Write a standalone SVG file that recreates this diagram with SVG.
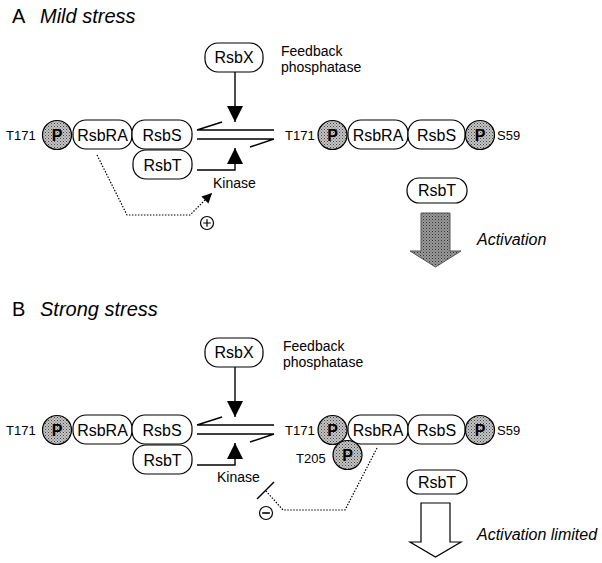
<svg xmlns="http://www.w3.org/2000/svg" width="602" height="563" viewBox="0 0 602 563">
<defs>
  <pattern id="stip" width="3" height="3" patternUnits="userSpaceOnUse">
    <rect width="3" height="3" fill="#c4c4c4"/>
    <rect x="0" y="0" width="1" height="1" fill="#444"/>
    <rect x="1.5" y="1.5" width="1" height="1" fill="#666"/>
  </pattern>
  <pattern id="stipDark" width="3" height="3" patternUnits="userSpaceOnUse">
    <rect width="3" height="3" fill="#999"/>
    <rect x="0" y="0" width="1" height="1" fill="#333"/>
    <rect x="1.5" y="1.5" width="1" height="1" fill="#555"/>
  </pattern>
  <marker id="ah" viewBox="0 0 10 10" refX="10" refY="5" markerWidth="16" markerHeight="16" markerUnits="userSpaceOnUse" orient="auto">
    <path d="M0,0 L10,5 L0,10 Z" fill="#000"/>
  </marker>
  <marker id="ahs" viewBox="0 0 10 10" refX="10" refY="5" markerWidth="10" markerHeight="10" markerUnits="userSpaceOnUse" orient="auto">
    <path d="M0,0 L10,5 L0,10 Z" fill="#000"/>
  </marker>
</defs>
<style>
  text { font-family: "Liberation Sans", Arial, sans-serif; fill: #000; }
  .box { fill: #fff; stroke: #000; stroke-width: 1.2; }
  .p { fill: url(#stip); stroke: #000; stroke-width: 1.2; }
  .pt { font-size: 16px; font-weight: bold; text-anchor: middle; }
  .lbl { font-size: 16px; text-anchor: middle; }
  .site { font-size: 13px; }
  .sm { font-size: 14px; }
  .it { font-style: italic; }
  .ln { stroke: #000; stroke-width: 1.4; fill: none; }
  .dot { stroke: #000; stroke-width: 1.2; fill: none; stroke-dasharray: 1.5 1.5; }
  .sign { fill: #fff; stroke: #000; stroke-width: 1.2; }
</style>

<!-- Panel A -->
<g id="titleA">
  <text x="12" y="23" font-size="20">A</text>
  <text x="40" y="23" font-size="20" class="it">Mild stress</text>
</g>
<g id="A-rsbx">
  <rect class="box" x="205" y="43" width="58" height="29" rx="13"/>
  <text class="lbl" x="234" y="63">RsbX</text>
</g>
<g id="A-feedback">
  <text class="sm" x="281" y="56">Feedback</text>
  <text class="sm" x="281" y="72">phosphatase</text>
</g>
<g id="A-left-complex">
  <text class="site" x="6" y="140">T171</text>
  <circle class="p" cx="57" cy="135" r="14.5"/>
  <text class="pt" x="57" y="141">P</text>
  <rect class="box" x="73" y="120" width="59" height="29" rx="13"/>
  <text class="lbl" x="102.5" y="140.5">RsbRA</text>
  <rect class="box" x="132" y="120" width="60" height="29" rx="13"/>
  <text class="lbl" x="162" y="140.5">RsbS</text>
  <rect class="box" x="133" y="150" width="59" height="29" rx="13"/>
  <text class="lbl" x="162.5" y="170.5">RsbT</text>
</g>
<g id="A-kinase">
  <text class="sm" x="213" y="188">Kinase</text>
</g>
<g id="A-plus">
  <circle class="sign" cx="207" cy="223" r="6.5"/>
  <path d="M203.2,223 H210.8 M207,219.2 V226.8" stroke="#000" stroke-width="1.2"/>
</g>
<g id="A-right-complex">
  <text class="site" x="285" y="140">T171</text>
  <circle class="p" cx="332.5" cy="135" r="14.5"/>
  <text class="pt" x="332.5" y="141">P</text>
  <rect class="box" x="348" y="120" width="60" height="29" rx="13"/>
  <text class="lbl" x="378" y="140.5">RsbRA</text>
  <rect class="box" x="408" y="120" width="57" height="29" rx="13"/>
  <text class="lbl" x="436.5" y="140.5">RsbS</text>
  <circle class="p" cx="480" cy="135" r="14.5"/>
  <text class="pt" x="480" y="141">P</text>
  <text class="site" x="497" y="140">S59</text>
</g>
<g id="A-rsbt-free">
  <rect class="box" x="407" y="178" width="60" height="25" rx="12"/>
  <text class="lbl" x="437" y="196">RsbT</text>
</g>
<g id="A-activation">
  <path d="M421,213 H450 V251 H461 L435.5,267 L410,251 H421 Z" fill="url(#stipDark)" stroke="#555" stroke-width="1"/>
  <text x="477" y="245" font-size="16" class="it">Activation</text>
</g>

<!-- Panel B -->
<g id="titleB">
  <text x="12" y="316" font-size="20">B</text>
  <text x="40" y="316" font-size="20" class="it">Strong stress</text>
</g>
<g id="B-rsbx">
  <rect class="box" x="205" y="338" width="58" height="29" rx="13"/>
  <text class="lbl" x="234" y="358">RsbX</text>
</g>
<g id="B-feedback">
  <text class="sm" x="283" y="351">Feedback</text>
  <text class="sm" x="283" y="367">phosphatase</text>
</g>
<g id="B-left-complex">
  <text class="site" x="6" y="435">T171</text>
  <circle class="p" cx="57" cy="430" r="14.5"/>
  <text class="pt" x="57" y="436">P</text>
  <rect class="box" x="73" y="415" width="59" height="29" rx="13"/>
  <text class="lbl" x="102.5" y="435.5">RsbRA</text>
  <rect class="box" x="132" y="415" width="60" height="29" rx="13"/>
  <text class="lbl" x="162" y="435.5">RsbS</text>
  <rect class="box" x="133" y="445" width="59" height="29" rx="13"/>
  <text class="lbl" x="162.5" y="465.5">RsbT</text>
</g>
<g id="B-kinase">
  <text class="sm" x="217" y="482">Kinase</text>
</g>
<g id="B-minus">
  <circle class="sign" cx="266" cy="513" r="6.5"/>
  <path d="M262.2,513 H269.8" stroke="#000" stroke-width="1.6"/>
</g>
<g id="B-right-complex">
  <text class="site" x="285" y="435">T171</text>
  <circle class="p" cx="332.5" cy="430" r="14.5"/>
  <text class="pt" x="332.5" y="436">P</text>
  <rect class="box" x="348" y="415" width="60" height="29" rx="13"/>
  <text class="lbl" x="378" y="435.5">RsbRA</text>
  <rect class="box" x="408" y="415" width="57" height="29" rx="13"/>
  <text class="lbl" x="436.5" y="435.5">RsbS</text>
  <circle class="p" cx="480" cy="430" r="14.5"/>
  <text class="pt" x="480" y="436">P</text>
  <text class="site" x="497" y="435">S59</text>
  <circle class="p" cx="347.5" cy="455" r="14.5"/>
  <text class="pt" x="347.5" y="461">P</text>
  <text class="site" x="296" y="463">T205</text>
</g>
<g id="B-rsbt-free">
  <rect class="box" x="407" y="470" width="60" height="24" rx="12"/>
  <text class="lbl" x="437" y="488">RsbT</text>
</g>
<g id="B-activation">
  <path d="M421,503 H450 V542 H461 L435.5,557 L410,542 H421 Z" fill="#fff" stroke="#000" stroke-width="1.2"/>
  <text x="477" y="540" font-size="16" class="it">Activation limited</text>
</g>

<!-- Connectors -->
<g id="connectors">
  <!-- Panel A -->
  <line class="ln" x1="235" y1="72" x2="235" y2="122" marker-end="url(#ah)"/>
  <path class="ln" d="M197,130 H274 M197,130 L222,122 M197,139 H274 M274,139 L250,147"/>
  <path class="ln" d="M197,170 H235 V148" marker-end="url(#ah)"/>
  <path class="dot" d="M97,155 L127,215 H190 L212,193" marker-end="url(#ahs)"/>
  <!-- Panel B -->
  <line class="ln" x1="235" y1="367" x2="235" y2="417" marker-end="url(#ah)"/>
  <path class="ln" d="M197,425 H274 M197,425 L222,417 M197,434 H274 M274,434 L250,442"/>
  <path class="ln" d="M197,465 H235 V443" marker-end="url(#ah)"/>
  <path class="dot" d="M377,448 L345,510 H283 L266,491"/>
  <line class="ln" x1="257" y1="499" x2="274" y2="482"/>
</g>
</svg>
